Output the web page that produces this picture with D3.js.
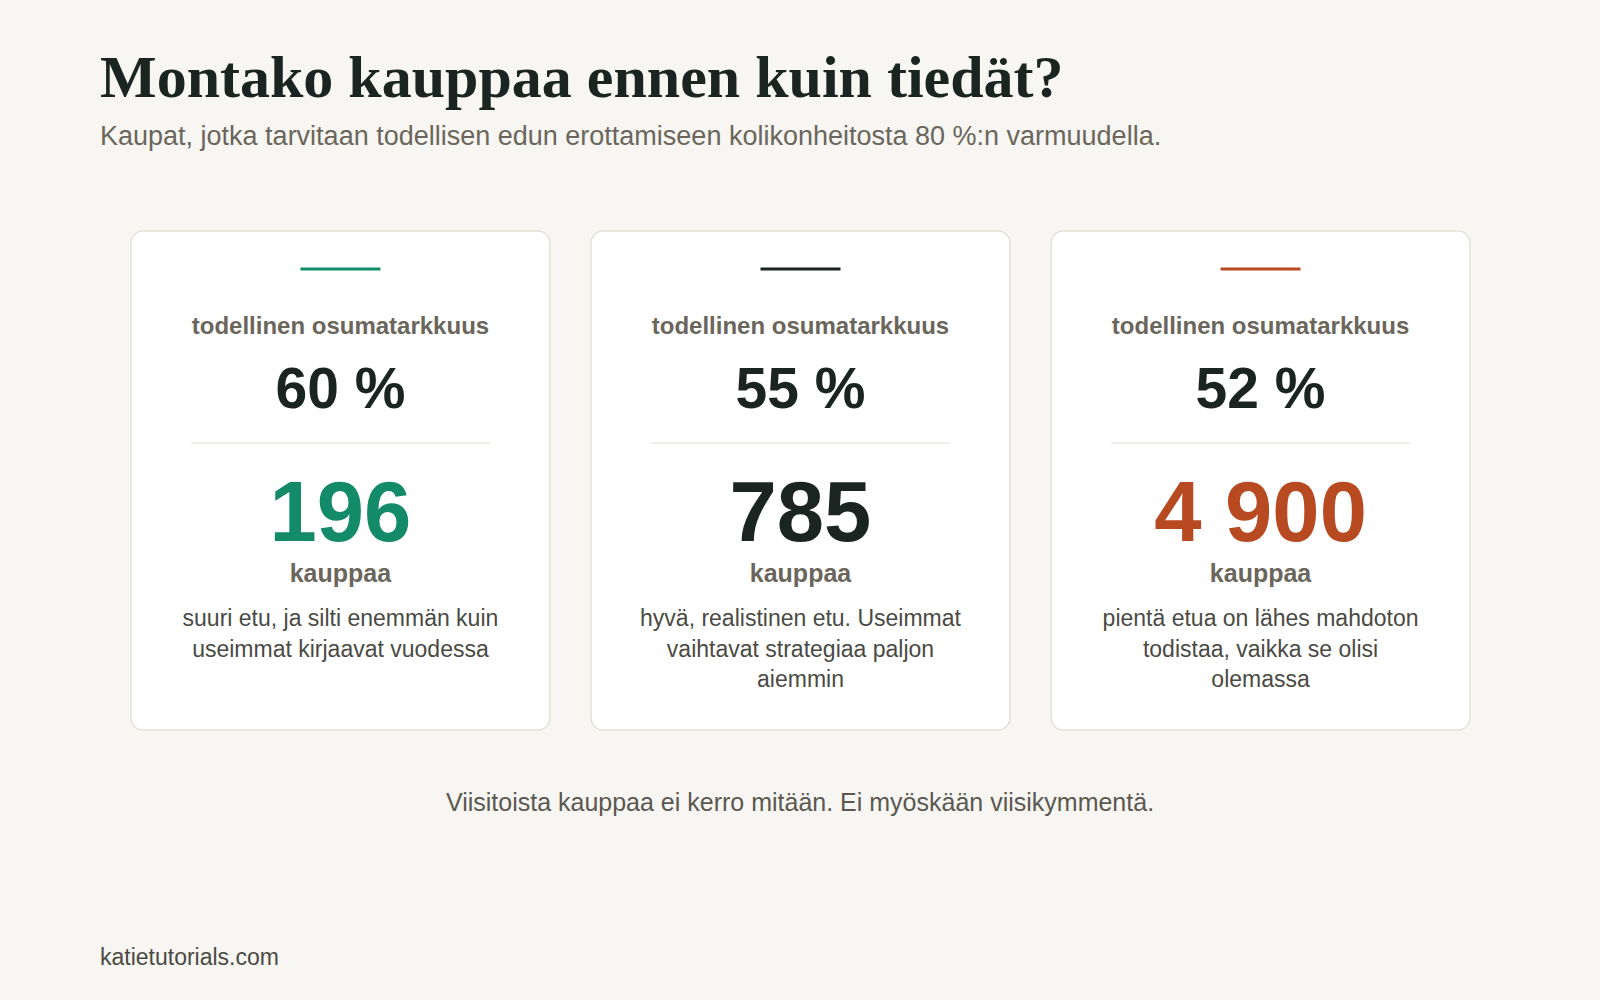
<!DOCTYPE html>
<html>
<head>
<meta charset="utf-8">
<script src="https://cdn.jsdelivr.net/npm/d3@7"></script>
<style>
  body { margin:0; background:#f7f6f2; }
  svg { display:block; }
</style>
</head>
<body>
<div id="chart"></div>
<script>
// data
var accuracies = ['60 %', '55 %', '52 %'];
var trades = ['196', '785', '4 900'];
var colors = ['#138a68', '#1a2420', '#b84a22'];
var descriptions = [
  ['suuri etu, ja silti enemmän kuin', 'useimmat kirjaavat vuodessa'],
  ['hyvä, realistinen etu. Useimmat', 'vaihtavat strategiaa paljon', 'aiemmin'],
  ['pientä etua on lähes mahdoton', 'todistaa, vaikka se olisi', 'olemassa']
];

var W = 1600, H = 1000,
    sans = 'Liberation Sans, Arial, sans-serif';

var svg = d3.select('#chart').append('svg')
    .attr('width', W).attr('height', H);

svg.append('rect').attr('width', W).attr('height', H).attr('fill', '#f7f6f2');

svg.append('text')
    .attr('x', 100).attr('y', 97)
    .attr('font-family', 'Liberation Serif, Times New Roman, serif')
    .attr('font-weight', 'bold').attr('font-size', 60)
    .attr('fill', '#1a2420')
    .text('Montako kauppaa ennen kuin tiedät?');

svg.append('text')
    .attr('x', 100).attr('y', 145)
    .attr('font-family', sans).attr('font-size', 27)
    .attr('fill', '#6b665c')
    .text('Kaupat, jotka tarvitaan todellisen edun erottamiseen kolikonheitosta 80 %:n varmuudella.');

var x = d3.scaleBand()
    .domain(d3.range(accuracies.length))
    .range([131, 1470])
    .paddingInner(0.0895);

var cardW = x.bandwidth();

var cards = svg.selectAll('g.card')
    .data(accuracies)
    .enter().append('g')
    .attr('class', 'card')
    .attr('transform', function(d, i){ return 'translate(' + x(i) + ',0)'; });

cards.append('rect')
    .attr('y', 231).attr('width', cardW).attr('height', 499)
    .attr('rx', 12)
    .attr('fill', '#fff').attr('stroke', '#e4e1d8').attr('stroke-width', 1.5);

cards.append('line')
    .attr('x1', cardW/2 - 40).attr('x2', cardW/2 + 40)
    .attr('y1', 269).attr('y2', 269)
    .attr('stroke', function(d, i){ return colors[i]; })
    .attr('stroke-width', 3);

cards.append('text')
    .attr('x', cardW/2).attr('y', 334)
    .attr('text-anchor', 'middle')
    .attr('font-family', sans).attr('font-weight', 'bold').attr('font-size', 24)
    .attr('fill', '#6b665c')
    .text('todellinen osumatarkkuus');

cards.append('text')
    .attr('x', cardW/2).attr('y', 408)
    .attr('text-anchor', 'middle')
    .attr('font-family', sans).attr('font-weight', 'bold').attr('font-size', 57)
    .attr('fill', '#1a2420')
    .text(function(d){ return d; });

cards.append('line')
    .attr('x1', 60).attr('x2', cardW - 60)
    .attr('y1', 443).attr('y2', 443)
    .attr('stroke', '#e4e1d8').attr('stroke-width', 1.2);

cards.append('text')
    .attr('x', cardW/2).attr('y', 541)
    .attr('text-anchor', 'middle')
    .attr('font-family', sans).attr('font-weight', 'bold').attr('font-size', 85)
    .attr('fill', function(d, i){ return colors[i]; })
    .text(function(d, i){ return trades[i]; });

cards.append('text')
    .attr('x', cardW/2).attr('y', 582)
    .attr('text-anchor', 'middle')
    .attr('font-family', sans).attr('font-weight', 'bold').attr('font-size', 25)
    .attr('fill', '#6b665c')
    .text('kauppaa');

cards.each(function(d, i){
    d3.select(this).selectAll('text.desc')
        .data(descriptions[i])
        .enter().append('text')
        .attr('class', 'desc')
        .attr('x', cardW/2)
        .attr('y', function(l, j){ return 626 + j*30.5; })
        .attr('text-anchor', 'middle')
        .attr('font-family', sans).attr('font-size', 23)
        .attr('fill', '#4a4a44')
        .text(function(l){ return l; });
});

svg.append('text')
    .attr('x', 800).attr('y', 811)
    .attr('text-anchor', 'middle')
    .attr('font-family', sans).attr('font-size', 25)
    .attr('fill', '#5a5850')
    .text('Viisitoista kauppaa ei kerro mitään. Ei myöskään viisikymmentä.');

svg.append('text')
    .attr('x', 100).attr('y', 965)
    .attr('font-family', sans).attr('font-size', 23)
    .attr('fill', '#4a4a44')
    .text('katietutorials.com');
</script>
</body>
</html>
